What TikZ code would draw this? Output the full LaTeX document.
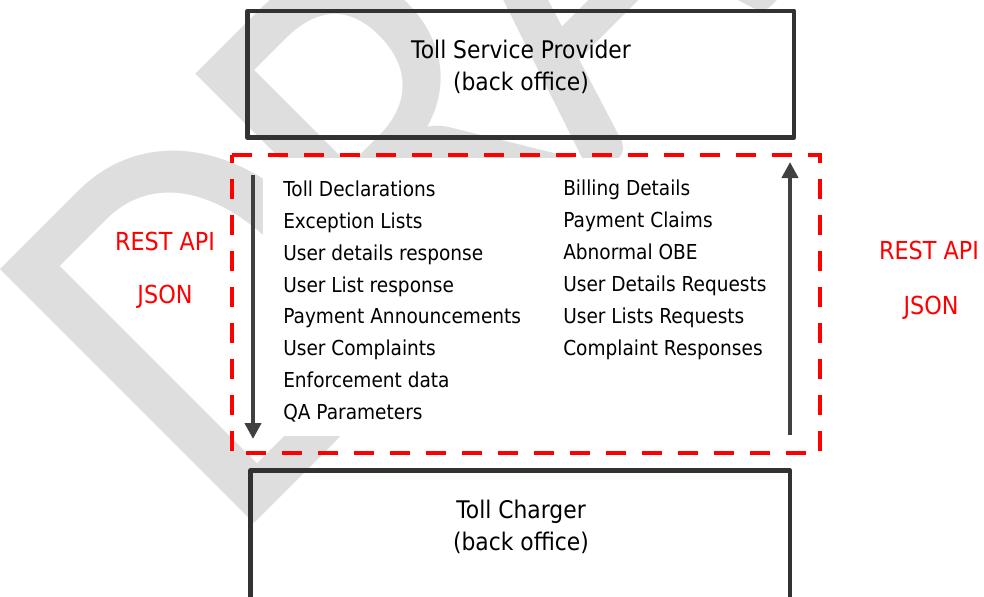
\documentclass[tikz,border=0pt]{standalone}
\usepackage{fontspec}
\setmainfont{DejaVu Sans}[FakeStretch=0.9]
\newfontfamily\wmfont{Carlito}
\usetikzlibrary{arrows.meta}
\definecolor{boxgray}{RGB}{50,50,50}
\definecolor{arrgray}{RGB}{64,64,64}
\definecolor{dashred}{RGB}{255,0,0}
\definecolor{wmgray}{RGB}{222,222,222}
\tikzset{
  box/.style={draw=boxgray, line width=3.4pt, line join=round},
  title/.style={font=\fontsize{18.2pt}{24pt}\selectfont, align=center, inner sep=0pt},
  item/.style={font=\fontsize{15.45pt}{18pt}\selectfont, anchor=base west, inner sep=0pt},
  api/.style={font=\fontsize{18.6pt}{22pt}\selectfont, text=dashred, anchor=base, inner sep=0pt},
  flow/.style={draw=arrgray, line width=3pt, -{Triangle[width=12pt,length=12pt]}},
  zone/.style={draw=dashred, line width=3.4pt, dash pattern=on 15pt off 12pt},
  wmark/.style={transform shape, anchor=base west, inner sep=0pt, text=wmgray,
    font=\wmfont\fontsize{420pt}{420pt}\selectfont},
}
\begin{document}
\begin{tikzpicture}[x=0.75pt,y=-0.75pt]
\clip (0,0) rectangle (984,596);
\useasboundingbox (0,0) rectangle (984,596);
% watermark
\begin{scope}[shift={(229.9,548.1)}, rotate=45, xscale=0.89]
  \node[wmark] (wm) at (0,0) {D\kern-26.6pt R\kern-26.6pt A\kern-26.6pt F\kern-26.6pt T};
\end{scope}
% white background of the message lists
\fill[white] (263,158) rectangle (815,436);
% boxes
\draw[box] (247.5,10.8) rectangle (794,137.5);
\draw[box] (250.5,470.5) rectangle (790,640);
\node[title] (tsp) at (521,66.4) {Toll Service Provider\\(back office)};
\node[title] (tc) at (521,526.4) {Toll Charger\\(back office)};
% dashed zone
\draw[zone] (232,155) -- (820,155) -- (820,453) -- (232,453) -- cycle;
% lists
\foreach \t [count=\i] in {Toll Declarations, Exception Lists, User details response,
  User List response, Payment Announcements, User Complaints, Enforcement data, QA Parameters}
  \node[item] (l\i) at (283,{196.7+31.8*(\i-1)}) {\t};
\foreach \t [count=\i] in {Billing Details, Payment Claims, Abnormal OBE,
  User Details Requests, User Lists Requests, Complaint Responses}
  \node[item] (r\i) at (563,{195+32*(\i-1)}) {\t};
% arrows
\coordinate (dtop) at (253,175);
\coordinate (dbot) at (253,439);
\coordinate (ubot) at (790,435);
\coordinate (utop) at (790,162);
\draw[flow] (dtop) -- (dbot);
\draw[flow] (ubot) -- (utop);
% api labels
\node[api] (apil) at (165,250) {REST API};
\node[api] (jsonl) at (165,303) {JSON};
\node[api] (apir) at (929,259.3) {REST API};
\node[api] (jsonr) at (931,314) {JSON};
\end{tikzpicture}
\end{document}
